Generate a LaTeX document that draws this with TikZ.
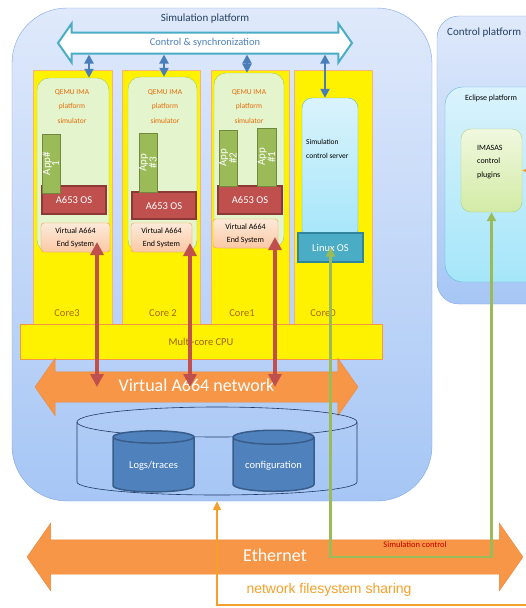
\documentclass[tikz,border=0pt]{standalone}
\usepackage{fontspec}
\setmainfont{Carlito}
\newfontfamily\arialfont{Liberation Sans}
\usetikzlibrary{arrows.meta,positioning,shapes.arrows,shapes.geometric,calc}

\definecolor{platblue}{HTML}{7EA6E0}
\definecolor{plattop}{HTML}{DFE9FB}
\definecolor{platbot}{HTML}{A6C6F5}
\definecolor{titleblue}{HTML}{243F60}
\definecolor{syncteal}{HTML}{4BACC6}
\definecolor{syncblue}{HTML}{4A7EBB}
\definecolor{ctrltext}{HTML}{4F81BD}
\definecolor{coreedge}{HTML}{F4B183}
\definecolor{labelbrown}{HTML}{A8690F}
\definecolor{cputext}{HTML}{9A6200}
\definecolor{qemufill}{HTML}{E4F4CC}
\definecolor{qemuedge}{HTML}{A3C768}
\definecolor{qemutext}{HTML}{E46C0A}
\definecolor{appgreen}{HTML}{9BBB59}
\definecolor{appedge}{HTML}{71893F}
\definecolor{osred}{HTML}{C0504D}
\definecolor{osedge}{HTML}{8C3836}
\definecolor{estop}{HTML}{FDEADA}
\definecolor{esbot}{HTML}{FBC8A4}
\definecolor{esedge}{HTML}{F79646}
\definecolor{srvtop}{HTML}{DAF3FC}
\definecolor{srvbot}{HTML}{A5E6F9}
\definecolor{srvedge}{HTML}{5FB7D9}
\definecolor{plugtop}{HTML}{F1F8E0}
\definecolor{plugbot}{HTML}{D2EBA5}
\definecolor{plugedge}{HTML}{B3D07A}
\definecolor{linuxfill}{HTML}{4BACC6}
\definecolor{linuxedge}{HTML}{31849B}
\definecolor{netorange}{HTML}{F79646}
\definecolor{netedge}{HTML}{E9883C}
\definecolor{dbfill}{HTML}{4F81BD}
\definecolor{dbedge}{HTML}{385D8A}
\definecolor{storeedge}{HTML}{1F3864}
\definecolor{ctrlgreen}{HTML}{9BBB59}
\definecolor{nfsorange}{HTML}{F5A02A}
\definecolor{simred}{HTML}{C00000}

\begin{document}
\begin{tikzpicture}[x=1pt,y=-1pt,
  platform/.style={draw=platblue, top color=plattop, bottom color=platbot, inner sep=0},
  corebox/.style={draw=coreedge, fill=yellow, minimum height=260pt, inner sep=0},
  corelabel/.style={text=labelbrown, font=\fontsize{10.5}{12}\selectfont},
  qemubox/.style={draw=qemuedge, fill=qemufill, rounded corners=12pt, inner sep=0},
  qemutitle/.style={text=qemutext, align=center, font=\fontsize{7.5}{14.5}\selectfont},
  appbox/.style={draw=appedge, line width=1pt, fill=appgreen, rotate=90, minimum height=18pt,
    inner sep=0, text=white, align=center, font=\fontsize{11}{9}\selectfont},
  osbox/.style={draw=osedge, line width=1.5pt, fill=osred, minimum width=64pt, text=white,
    font=\fontsize{10.5}{12}\selectfont},
  esbox/.style={draw=esedge, top color=estop, bottom color=esbot, rounded corners=3pt,
    minimum height=29pt, inner sep=0, align=center, font=\fontsize{8}{13}\selectfont},
  ctrlarrow/.style={double arrow, draw=syncteal, line width=2pt, fill=white,
    double arrow tip angle=110, text=ctrltext, font=\fontsize{10.5}{12}\selectfont},
  bigarrow/.style={double arrow, draw=netedge, fill=netorange, double arrow tip angle=110,
    text=white, font=\fontsize{18}{20}\selectfont},
  syncarrow/.style={draw=syncblue, line width=2pt,
    {Triangle[width=9pt,length=9pt]}-{Triangle[width=9pt,length=9pt]}},
  esarrow/.style={draw=osred, line width=3.5pt,
    {Triangle[width=13pt,length=13pt]}-{Triangle[width=13pt,length=13pt]}},
  dbcyl/.style={cylinder, shape border rotate=90, aspect=0.22, draw=dbedge, line width=1.5pt,
    fill=dbfill, minimum width=81pt, minimum height=61pt, text=white,
    font=\fontsize{10.5}{12}\selectfont},
  ctrlline/.style={draw=ctrlgreen, line width=2.5pt,
    {Triangle[width=9pt,length=9pt]}-{Triangle[width=9pt,length=9pt]}},
  nfsline/.style={draw=nfsorange, line width=1.5pt,
    {Triangle[width=8pt,length=9pt]}-{Triangle[width=8pt,length=9pt]}}]

  \useasboundingbox (0,0) rectangle (526,608);
  \clip (0,0) rectangle (526,608);

  % the two platforms
  \node[platform, rounded corners=55pt, minimum width=420pt, minimum height=493pt] (simplat) at (222,254.5) {};
  \node[text=titleblue, font=\fontsize{11}{13}\selectfont] (simtitle) at (205,19) {Simulation platform};
  \node[platform, rounded corners=22pt, minimum width=123pt, minimum height=288pt] (ctrlplat) at (498.5,160) {};
  \node[anchor=west, inner sep=0, text=titleblue, font=\fontsize{11}{13}\selectfont] (ctrltitle) at (447,33) {Control platform};
  \node[draw=srvedge, top color=srvtop, bottom color=srvbot, rounded corners=18pt,
        minimum width=115pt, minimum height=195pt, inner sep=0] (eclipse) at (502.5,184.5) {};
  \node[font=\fontsize{8}{10}\selectfont] (ecltitle) at (491,98) {Eclipse platform};
  \node[draw=plugedge, top color=plugtop, bottom color=plugbot, rounded corners=10pt,
        minimum width=61pt, minimum height=83pt, inner sep=0] (imasas) at (491.5,170.5) {};
  \node[anchor=north west, inner sep=0, align=left, font=\fontsize{8}{13.5}\selectfont] (imatext) at (477,145) {IMASAS\\control\\plugins};

  % cores
  \node[corebox, minimum width=79pt] (core3) at (72.5,200) {};
  \node[corebox, minimum width=78pt] (core2) at (161,200) {};
  \node[corebox, minimum width=78pt] (core1) at (250,200) {};
  \node[corebox, minimum width=78pt] (core0) at (333,200) {};
  \node[corelabel] (lab3) at (67,313) {Core3};
  \node[corelabel] (lab2) at (163,313) {Core 2};
  \node[corelabel] (lab1) at (242,313) {Core1};
  \node[corelabel] (lab0) at (323,313) {Core0};
  \node[draw=esedge, fill=yellow, minimum width=362pt, minimum height=35pt, text=cputext,
        font=\fontsize{10.5}{12}\selectfont] (cpu) at (201,341.5) {Multi-core CPU};

  % QEMU simulators
  \node[qemubox, minimum width=72pt, minimum height=174pt] (qemu3) at (73,165) {};
  \node[qemubox, minimum width=69pt, minimum height=175pt] (qemu2) at (162.5,164.5) {};
  \node[qemubox, minimum width=70pt, minimum height=175pt] (qemu1) at (249,160.5) {};
  \node[qemutitle] (qtitle3) at (72,106.5) {QEMU IMA\\platform\\simulator};
  \node[qemutitle] (qtitle2) at (165,106.5) {QEMU IMA\\platform\\simulator};
  \node[qemutitle] (qtitle1) at (249,106.5) {QEMU IMA\\platform\\simulator};

  \node[osbox, minimum height=28pt] (os3) at (74,200) {A653 OS};
  \node[osbox, minimum height=27pt] (os2) at (164,205.5) {A653 OS};
  \node[osbox, minimum height=28pt] (os1) at (250,200) {A653 OS};

  \node[appbox, minimum width=59pt] (app31) at (51,163.5) {App\#\\1};
  \node[appbox, minimum width=59pt] (app23) at (148,162.5) {App\\\#3};
  \node[appbox, minimum width=56pt] (app12) at (228,158) {App\\\#2};
  \node[appbox, minimum width=58pt, minimum height=19pt] (app11) at (266.5,157) {App\\\#1};

  \node[esbox, minimum width=69pt] (es3) at (75.5,237.5) {Virtual A664\\End System};
  \node[esbox, minimum width=61pt] (es2) at (161.5,237.5) {Virtual A664\\End System};
  \node[esbox, minimum width=65pt] (es1) at (245.5,233.5) {Virtual A664\\End System};

  % simulation control server on core 0
  \node[draw=srvedge, top color=srvtop, bottom color=srvbot, rounded corners=10pt,
        minimum width=56pt, minimum height=142pt, inner sep=0] (scs) at (330,169) {};
  \node[anchor=north west, inner sep=0, align=left, font=\fontsize{7.5}{14}\selectfont] (scstext) at (306,139) {Simulation\\control server};
  \node[draw=linuxedge, line width=2pt, fill=linuxfill, minimum width=65pt, minimum height=29pt,
        text=white, font=\fontsize{10.5}{12}\selectfont] (linux) at (330.5,247.5) {Linux OS};

  % control & synchronization bus
  \node[ctrlarrow, minimum height=294pt, minimum width=37pt, text height=7pt, text depth=2pt,
        inner ysep=5pt, double arrow head extend=9pt] (ctrl) at (205,43) {Control \& synchronization};
  \coordinate (s3) at ([xshift=16pt]qemu3.north);
  \coordinate (s2) at ([xshift=1.5pt]qemu2.north);
  \coordinate (s1) at ([xshift=-2pt]qemu1.north);
  \coordinate (s0) at ([xshift=-5pt]scs.north);
  \draw[syncarrow] (s3 |- ctrl.south) -- (s3);
  \draw[syncarrow] (s2 |- ctrl.south) -- (s2);
  \draw[syncarrow] (s1 |- ctrl.south) -- (s1);
  \draw[syncarrow] (s0 |- ctrl.south) -- (s0);

  % virtual A664 network
  \node[bigarrow, minimum height=323pt, minimum width=57pt, text height=12pt, text depth=4pt,
        inner ysep=7pt, double arrow head extend=13.5pt] (net) at (196.5,387) {Virtual A664 network};
  \coordinate (r3) at ([xshift=21.5pt,yshift=-4.5pt]es3.center);
  \coordinate (r2) at ([xshift=28.5pt,yshift=-5.5pt]es2.center);
  \coordinate (r1) at ([xshift=29.5pt,yshift=-3.5pt]es1.center);
  \draw[esarrow] (r3) -- (r3 |- net.center);
  \draw[esarrow] (r2) -- (r2 |- net.center);
  \draw[esarrow] (r1) -- (r1 |- net.center);

  % storage
  \draw[storeedge, line width=0.6pt] (77,422) -- (77,482) arc[start angle=180, end angle=0, x radius=140, y radius=13] -- (357,422);
  \draw[storeedge, line width=0.6pt] (217,422) ellipse [x radius=140, y radius=15];
  \node[dbcyl] (logs) at (153.5,466) {Logs/traces};
  \node[dbcyl] (config) at (273.5,466) {configuration};

  % ethernet and the links across it
  \node[bigarrow, minimum height=496pt, minimum width=67pt, text height=13pt, text depth=4pt,
        inner ysep=8.5pt, double arrow head extend=16.5pt] (eth) at (275,557) {Ethernet};
  \draw[ctrlline] (linux.center) -- (linux.center |- eth.center) -| (imasas.south);
  \node[text=simred, font=\fontsize{8.5}{10}\selectfont] (simctl) at (415,545) {Simulation control};

  \coordinate (nfscorner) at (217,605);
  \draw[nfsline] (simplat.south -| nfscorner) -- (nfscorner) -- ++(340,0) |- (imasas.east);
  \node[text=nfsorange, font=\arialfont\fontsize{14}{16}\selectfont] (nfstext) at (329,590) {network filesystem sharing};
\end{tikzpicture}
\end{document}
